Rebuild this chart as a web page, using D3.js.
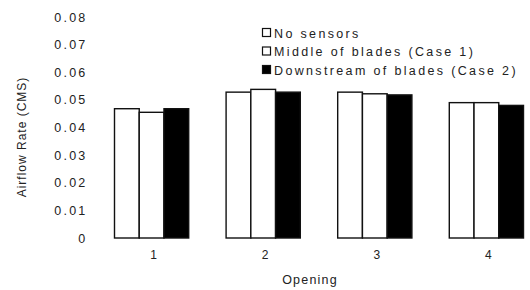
<!DOCTYPE html>
<html><head><meta charset="utf-8">
<script src="https://cdn.jsdelivr.net/npm/d3@7"></script>
<style>
html,body{margin:0;padding:0;background:#fff;}
svg{display:block;}
text{font-family:"Liberation Sans",Arial,sans-serif;fill:#222;}
</style></head>
<body>
<svg id="chart" width="530" height="290"></svg>
<script>
const openings = ["1","2","3","4"];
const seriesNames = ["No sensors","Middle of blades (Case 1)","Downstream of blades (Case 2)"];
const noSensors = [0.0468, 0.0528, 0.0528, 0.0490];
const middleCase1 = [0.0455, 0.0538, 0.0522, 0.0490];
const downstreamCase2 = [0.0468, 0.0528, 0.0518, 0.0480];
const yTicks = [0,0.01,0.02,0.03,0.04,0.05,0.06,0.07,0.08];
const seriesFill = ["#fff","#fff","#000"];

const svg = d3.select("#chart");
const series = [noSensors, middleCase1, downstreamCase2];
const FONT = "Liberation Sans, Arial, sans-serif";

const x = d3.scaleBand().domain(openings).range([114.5, 523.5]).paddingInner(0.335).paddingOuter(0);
const xs = d3.scaleBand().domain(d3.range(series.length)).range([0, x.bandwidth()]);
const y = d3.scaleLinear().domain([0, 0.08]).range([238, 17]);

// y tick labels (no axis line)
const yAxis = d3.axisLeft(y).tickValues(yTicks).tickSize(0).tickPadding(0)
  .tickFormat(d => d === 0 ? "0" : d3.format(".2f")(d));
const gy = svg.append("g").attr("transform","translate(87.5,0)").call(yAxis);
gy.select(".domain").remove();
gy.selectAll("text").style("font-family",FONT).style("font-size","12.5px")
  .style("letter-spacing","2.2px").attr("fill","#222");

// x tick labels
const xAxis = d3.axisBottom(x).tickSize(0).tickPadding(0);
const gx = svg.append("g").attr("transform","translate(2,250)").call(xAxis);
gx.select(".domain").remove();
gx.selectAll("text").style("font-family",FONT).style("font-size","12px").attr("fill","#222");

// bars
const groups = svg.append("g").selectAll("g").data(openings).join("g")
  .attr("transform", d => `translate(${x(d)},0)`);
groups.selectAll("rect").data((d,i) => series.map((s,k) => ({k, v: s[i]}))).join("rect")
  .attr("x", d => xs(d.k)).attr("width", xs.bandwidth())
  .attr("y", d => y(d.v)).attr("height", d => y(0) - y(d.v))
  .attr("fill", d => seriesFill[d.k]).attr("stroke","#111").attr("stroke-width",1.4);

// axis titles
svg.append("text").attr("x", 310).attr("y", 284).attr("text-anchor","middle")
  .style("font-size","12.5px").style("letter-spacing","1.2px").text("Opening");
svg.append("text").attr("transform","translate(26,137) rotate(-90)").attr("text-anchor","middle")
  .style("font-size","12px").style("letter-spacing","1px").text("Airflow Rate (CMS)");

// legend
const leg = svg.append("g").attr("transform","translate(262,28)");
const rows = leg.selectAll("g").data(seriesNames).join("g")
  .attr("transform", (d,i) => `translate(0,${i*18.5})`);
rows.append("rect").attr("x",0.5).attr("y",0.5).attr("width",8).attr("height",8)
  .attr("fill",(d,i)=>seriesFill[i]).attr("stroke","#111").attr("stroke-width",1.2);
rows.append("text").attr("x",12).attr("y",9.5).style("font-size","12.5px").style("letter-spacing","2.35px").text(d=>d);
</script>
</body></html>
